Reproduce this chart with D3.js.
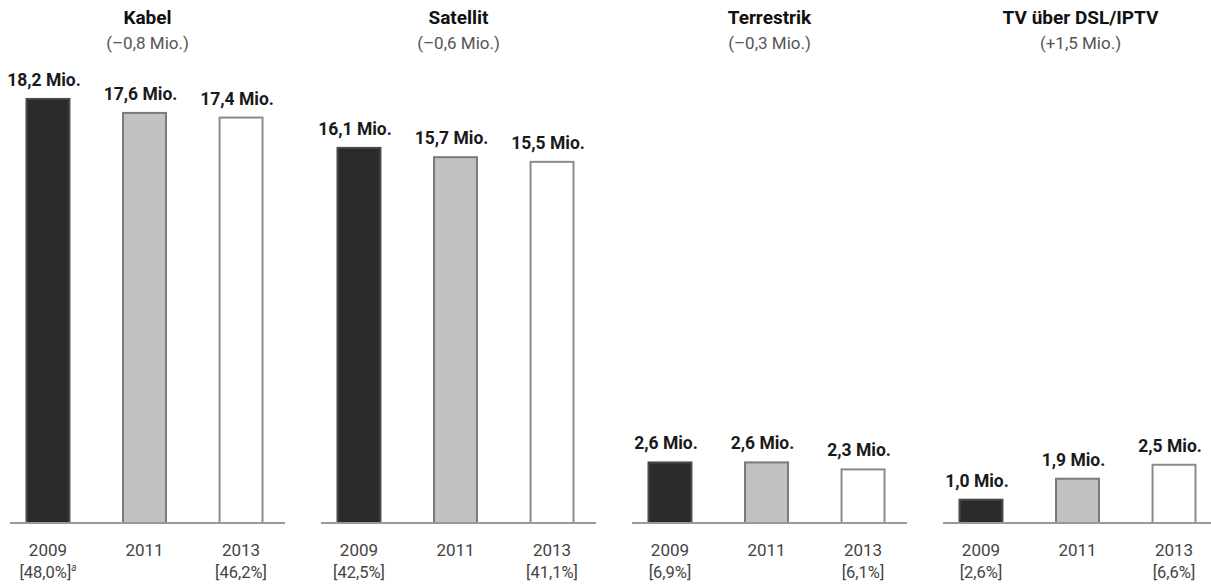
<!DOCTYPE html>
<html>
<head>
<meta charset="utf-8">
<script src="https://cdn.jsdelivr.net/npm/d3@7"></script>
<style>
  html, body { margin: 0; padding: 0; background: #fff; }
  svg { display: block; font-family: Roboto, "Liberation Sans", sans-serif; }
</style>
</head>
<body>
<svg id="chart" width="1211" height="585"></svg>
<script>
// TV reception paths in German households, millions
const categories = ["Kabel", "Satellit", "Terrestrik", "TV über DSL/IPTV"];
const changes = ["(–0,8 Mio.)", "(–0,6 Mio.)", "(–0,3 Mio.)", "(+1,5 Mio.)"];
const years = ["2009", "2011", "2013"];
const values2009 = [18.2, 16.1, 2.6, 1.0];
const values2011 = [17.6, 15.7, 2.6, 1.9];
const values2013 = [17.4, 15.5, 2.3, 2.5];
const shares2009 = ["[48,0%]", "[42,5%]", "[6,9%]", "[2,6%]"];
const shares2013 = ["[46,2%]", "[41,1%]", "[6,1%]", "[6,6%]"];
const footnoteMark = ["a", "", "", ""];

const fmt = v => d3.format(".1f")(v).replace(".", ",") + " Mio.";

const svg = d3.select("#chart");
const baseY = 523;

// panels laid out side by side
const panel = d3.scaleBand().domain(categories).range([10, 10 + 4 * 311]).paddingInner(0).paddingOuter(0);
const panelW = 275;

const x = d3.scaleBand().domain(years).range([16.5, 252.5]).paddingInner(0.555).paddingOuter(0);
const y = d3.scaleLinear().domain([0, 20]).range([baseY, baseY - 20 * 23.3]);

const fills = { "2009": "#2b2b2b", "2011": "#c2c2c2", "2013": "#ffffff" };
const strokes = { "2009": "#4a4a4a", "2011": "#7a7a7a", "2013": "#8a8a8a" };

categories.forEach((cat, i) => {
  const g = svg.append("g").attr("transform", `translate(${panel(cat)},0)`);
  const data = [
    { year: "2009", v: values2009[i], share: shares2009[i], mark: footnoteMark[i] },
    { year: "2011", v: values2011[i], share: "", mark: "" },
    { year: "2013", v: values2013[i], share: shares2013[i], mark: "" }
  ];

  // heading
  g.append("text")
    .attr("x", panelW / 2).attr("y", 24)
    .attr("text-anchor", "middle")
    .attr("font-size", 19).attr("font-weight", 700).attr("fill", "#111")
    .text(cat);
  g.append("text")
    .attr("x", panelW / 2).attr("y", 49)
    .attr("text-anchor", "middle")
    .attr("font-size", 17).attr("fill", "#555")
    .text(changes[i]);

  // bars
  g.selectAll("rect.bar").data(data).enter().append("rect")
    .attr("class", "bar")
    .attr("x", d => x(d.year))
    .attr("y", d => y(d.v))
    .attr("width", x.bandwidth())
    .attr("height", d => baseY - y(d.v))
    .attr("fill", d => fills[d.year])
    .attr("stroke", d => strokes[d.year])
    .attr("stroke-width", 2);

  // baseline
  g.append("line")
    .attr("x1", 0).attr("x2", panelW)
    .attr("y1", baseY).attr("y2", baseY)
    .attr("stroke", "#999").attr("stroke-width", 2);

  // value labels
  g.selectAll("text.val").data(data).enter().append("text")
    .attr("class", "val")
    .attr("x", d => x(d.year) + x.bandwidth() / 2 - 4)
    .attr("y", d => y(d.v) - 13)
    .attr("text-anchor", "middle")
    .attr("font-size", 17.5).attr("font-weight", 700).attr("fill", "#1a1a1a")
    .text(d => fmt(d.v));

  // year labels
  g.selectAll("text.year").data(data).enter().append("text")
    .attr("class", "year")
    .attr("x", d => x(d.year) + x.bandwidth() / 2)
    .attr("y", 556)
    .attr("text-anchor", "middle")
    .attr("font-size", 17).attr("fill", "#444")
    .text(d => d.year);

  // share labels
  const sh = g.selectAll("text.share").data(data.filter(d => d.share)).enter().append("text")
    .attr("class", "share")
    .attr("x", d => x(d.year) + x.bandwidth() / 2)
    .attr("y", 578)
    .attr("text-anchor", "middle")
    .attr("font-size", 16.5).attr("fill", "#444");
  sh.append("tspan").text(d => d.share);
  sh.filter(d => d.mark).append("tspan")
    .attr("dy", -7).attr("font-size", 10).attr("font-style", "italic")
    .text(d => d.mark);
});
</script>
</body>
</html>
